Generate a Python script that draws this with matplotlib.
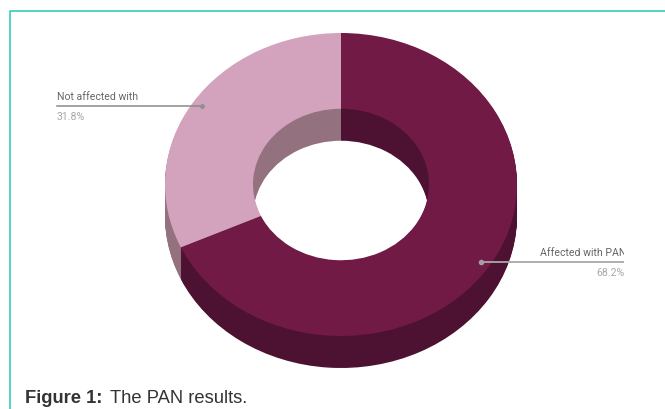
import matplotlib
matplotlib.use('Agg')
import matplotlib.pyplot as plt
from matplotlib.patches import Rectangle

labels = ['Affected with PAN', 'Not affected with']
values = [68.2, 31.8]
value_labels = ['68.2%', '31.8%']
top_colors = ['#701a45', '#d3a3bd']
side_colors = ['#4d1231', '#94717f']

W, H = 665, 409
CX, CY, RX, RY = 341, 184.5, 176, 151.5
DEPTH = 32

fig = plt.figure(figsize=(W / 100, H / 100), dpi=100, facecolor='white')

# donut, unit radius stretched to the ellipse of the picture
ax = fig.add_axes([0, 0, 1, 1])
for px in range(DEPTH, 0, -1):
    ax.pie(values, colors=side_colors, startangle=90, counterclock=False,
           center=(0, -px / RY), radius=1, wedgeprops={'width': 0.5, 'linewidth': 0})
ax.pie(values, colors=top_colors, startangle=90, counterclock=False,
       radius=1, wedgeprops={'width': 0.5, 'linewidth': 0})
ax.set_aspect('auto')
ax.set_xlim(-CX / RX, (W - CX) / RX)
ax.set_ylim((CY - H) / RY, CY / RY)

# overlay in pixels for frame, leader lines and text
ov = fig.add_axes([0, 0, 1, 1])
ov.set_xlim(0, W)
ov.set_ylim(H, 0)
ov.axis('off')
ov.patch.set_alpha(0)

ov.plot([9.5, 9.5, W], [H, 11, 11], color='#35cdb8', lw=1.2, solid_capstyle='butt')

# left label
ov.plot([57, 202], [106, 106], color='#8a8a8a', lw=1.1)
ov.plot([202], [106], 'o', color='#8f8f8f', ms=2.5)
ov.text(57, 97, labels[1], family='Roboto', fontsize=7.6, color='#666666', va='center', ha='left')
ov.text(57, 117, value_labels[1], family='Roboto', fontsize=7.6, color='#a8a8a8', va='center', ha='left')

# right label, cut off at the end of its line like the picture
clip = Rectangle((0, 0), 624, H, transform=ov.transData)
ov.plot([481, 624], [262, 262], color='#a8a8a8', lw=1.3, solid_capstyle='butt')
ov.plot([481], [262], 'o', color='#a0a0a0', ms=3)
t1 = ov.text(540, 253, labels[0], family='Roboto', fontsize=7.6, color='#666666', va='center', ha='left')
t2 = ov.text(625, 273, value_labels[0], family='Roboto', fontsize=7.6, color='#a8a8a8', va='center', ha='right')
for t in (t1, t2):
    t.set_clip_on(True)
    t.set_clip_path(clip)

# caption
ov.text(25, 403, 'Figure 1:', family='Liberation Sans', fontweight='bold', fontsize=13.2,
        color='#333333', va='baseline', ha='left')
ov.text(109.5, 403, 'The PAN results.', family='Liberation Sans', fontsize=13.2,
        color='#333333', va='baseline', ha='left')

fig.savefig('out.png', dpi=100)
